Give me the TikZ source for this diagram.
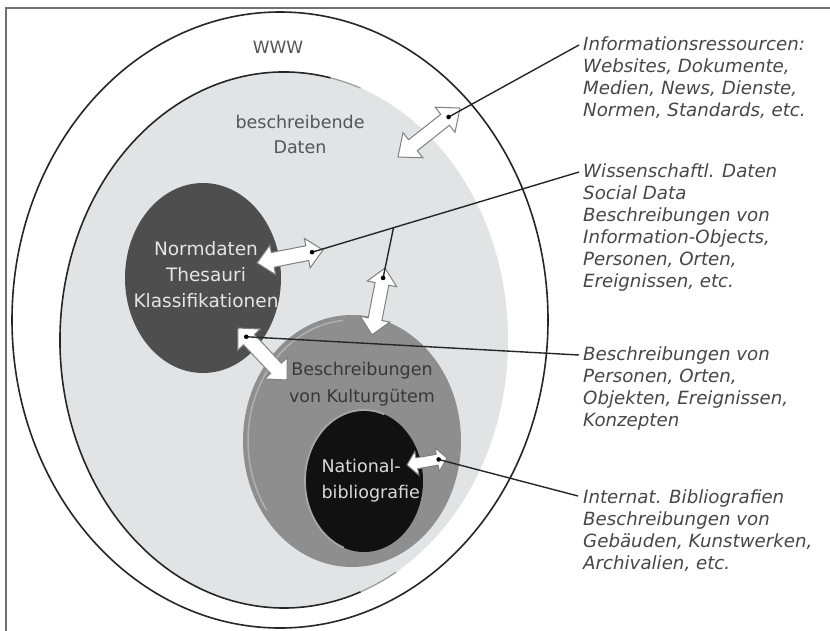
\documentclass[tikz,border=0pt]{standalone}
\usepackage{fontspec}
\setmainfont{DejaVu Sans}
\usetikzlibrary{calc}
\definecolor{framecol}{HTML}{707070}
\definecolor{lightfill}{HTML}{E2E3E5}
\definecolor{normfill}{HTML}{4E4E4E}
\definecolor{kultfill}{HTML}{8E8E8E}
\definecolor{natfill}{HTML}{111111}
\definecolor{sidetxt}{HTML}{474747}
\definecolor{labtxt}{HTML}{555555}
\tikzset{
  arrowbody/.style={fill=white, draw=black!50, line width=1pt, line join=miter},
  conn/.style={draw=black!85, line width=1.4pt},
  sidetext/.style={anchor=north west, inner sep=0pt, align=left, text=sidetxt,
    font=\fontsize{18.2}{22}\selectfont\itshape},
  pics/dblarr/.style n args={5}{code={
    \path[arrowbody] (-#1,0) -- ({-#1+#2},#3) -- ({-#1+#2},#4) -- ({#1-#2},#4)
      -- ({#1-#2},#3) -- (#1,0) -- ({#1-#2},-#3) -- ({#1-#2},-#4)
      -- ({-#1+#2},-#4) -- ({-#1+#2},-#3) -- cycle;
    \coordinate (-dot) at (#5,0);
  }},
}
\begin{document}
\begin{tikzpicture}[x=1pt,y=-1pt]
\useasboundingbox (0,0) rectangle (830,630);
\fill[white] (0,0) rectangle (830,630);
\draw[framecol, line width=1.6pt] (6,632) -- (6,8) -- (832,8);

% outer WWW ellipse
\draw[fill=white, draw=black!85, line width=1.6pt] (280,320) ellipse [x radius=268, y radius=308];
% beschreibende Daten
\fill[lightfill] (284,340) ellipse [x radius=224, y radius=268];
\draw[black!85, line width=1.6pt] ($(284,340)+(-78:224 and 268)$) arc[start angle=-78, end angle=-290, x radius=224, y radius=268];
\draw[black!40, line width=1.2pt] ($(284,340)+(-70:224 and 268)$) arc[start angle=-70, end angle=-78, x radius=224, y radius=268];
\draw[black!40, line width=1.2pt] ($(284,340)+(-290:224 and 268)$) arc[start angle=-290, end angle=-300, x radius=224, y radius=268];

% Normdaten
\fill[normfill] (203,278) ellipse [x radius=78, y radius=95];
% Kulturgueter
\fill[kultfill] (352,441) ellipse [x radius=109, y radius=126];
\draw[white!75!black, line width=1.5pt, opacity=0.7] ($(352,441)+(-95:104 and 121)$) arc[start angle=-95, end angle=-215, x radius=104, y radius=121];
% Nationalbibliografie
\fill[natfill] (364,481) ellipse [x radius=59, y radius=71];
\draw[white!65!black, line width=1.8pt] ($(364,481)+(-70:59 and 71)$) arc[start angle=-70, end angle=-250, x radius=59, y radius=71];

% labels in circles
\node[text=labtxt, font=\fontsize{17}{20}\selectfont] (www) at (278,47) {WWW};
\node[text=labtxt, align=center, font=\fontsize{17.5}{25}\selectfont] (bdaten) at (300,134) {beschreibende\\Daten};
\node[text=white!90!black, align=center, font=\fontsize{18.5}{26}\selectfont] (normtxt) at (206,275) {Normdaten\\Thesauri\\Klassifikationen};
\node[text=black!78, align=center, font=\fontsize{17.5}{27}\selectfont] (kulttxt) at (362,384) {Beschreibungen\\von Kulturgütem};
\node[text=white!85!black, align=left, anchor=west, font=\fontsize{17.5}{26}\selectfont] (nattxt) at (318,481) {National-\\bibliografie};

% side texts
\node[sidetext] (txt1) at (583,36) {Informationsressourcen:\\Websites, Dokumente,\\Medien, News, Dienste,\\Normen, Standards, etc.};
\node[sidetext] (txt2) at (583,163) {Wissenschaftl. Daten\\Social Data\\Beschreibungen von\\Information-Objects,\\Personen, Orten,\\Ereignissen, etc.};
\node[sidetext] (txt3) at (583,346) {Beschreibungen von\\Personen, Orten,\\Objekten, Ereignissen,\\Konzepten};
\node[sidetext] (txt4) at (583,489) {Internat. Bibliografien\\Beschreibungen von\\Gebäuden, Kunstwerken,\\Archivalien, etc.};

% double arrows
\path (429,132.5) pic[rotate=38.3] (a1) {dblarr={39.5}{19}{16}{7}{25}};
\path (290,256.5) pic[rotate=11.1] (a2) {dblarr={33.6}{16}{15}{7.5}{22.5}};
\path (378.5,301.5) pic[rotate=79] (a3) {dblarr={34}{16}{15}{7}{24}};
\path (262.5,354) pic[rotate=-46.7] (a4) {dblarr={35.7}{16}{15.5}{7.5}{-23.7}};
\path (427,461.5) pic[rotate=9.9] (a5) {dblarr={20.3}{10}{12}{5.5}{11.8}};

% connector ends
\coordinate (e1) at ($(txt1.north west)+(-4,9)$);
\coordinate (e2) at ($(txt2.north west)+(-4,9)$);
\coordinate (e3) at ($(txt3.north west)+(-4,9)$);
\coordinate (e4) at ($(txt4.north west)+(-5,7)$);
\coordinate (br) at ($(a2-dot)!0.305!(e2)$);

\draw[conn] (a1-dot) -- (e1);
\draw[conn] (a2-dot) -- (e2);
\draw[conn] (br) -- (a3-dot);
\draw[conn] (a4-dot) -- (e3);
\draw[conn] (a5-dot) -- (e4);
\foreach \d in {a1-dot,a2-dot,a3-dot,a4-dot,a5-dot} \fill[black] (\d) circle (2.3);
\end{tikzpicture}
\end{document}
